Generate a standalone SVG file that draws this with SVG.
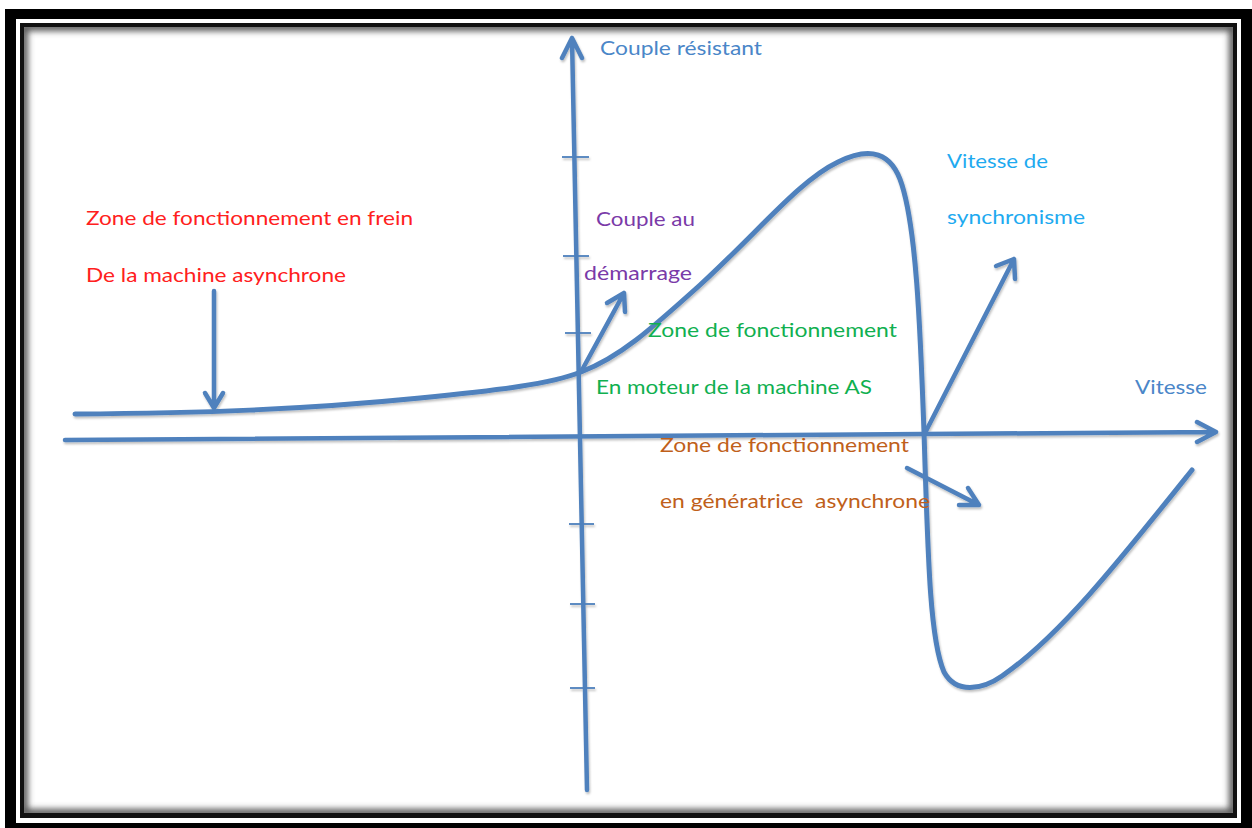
<svg xmlns="http://www.w3.org/2000/svg" width="1252" height="828" viewBox="0 0 1252 828">
  <defs>
    <style>
      .ln { fill: none; stroke: #4f81bd; stroke-linecap: round; stroke-linejoin: round; }
      .ax { stroke-width: 4.5; }
      .cv { stroke-width: 5; }
      .ar { stroke-width: 4.5; }
      .tk { stroke-width: 1.8; stroke-linecap: butt; }
      text { font-family: Lato, "Open Sans", "Liberation Sans", sans-serif; font-size: 19px; }
      .blue { fill: #4a86c8; }
      .cyan { fill: #1eaaf0; }
      .red { fill: #ff2020; }
      .purple { fill: #7a3aa8; }
      .green { fill: #10b050; }
      .brown { fill: #c0601a; }
    </style>
    <filter id="shadow" x="-5%" y="-5%" width="110%" height="110%">
      <feDropShadow dx="1" dy="2" stdDeviation="1.2" flood-color="#000" flood-opacity="0.25"/>
    </filter>
    <filter id="soft" x="-5%" y="-5%" width="110%" height="110%">
      <feGaussianBlur stdDeviation="3"/>
    </filter>
    <clipPath id="inner">
      <rect x="24" y="27" width="1209" height="786"/>
    </clipPath>
  </defs>

  <!-- frame -->
  <g id="frame">
    <rect x="0" y="0" width="1252" height="828" fill="#ffffff"/>
    <rect x="5" y="9" width="1247" height="819" fill="#000"/>
    <rect x="16" y="19" width="1225" height="804" fill="#ffffff"/>
    <rect x="20" y="23" width="1217" height="795" fill="#111"/>
    <rect x="24" y="27" width="1209" height="786" fill="#ffffff"/>
    <g clip-path="url(#inner)">
      <rect x="24" y="27" width="1209" height="786" fill="none" stroke="#555" stroke-width="8" filter="url(#soft)"/>
    </g>
  </g>

  <!-- connectors: axes, characteristic curve and pointer arrows -->
  <g id="connectors" filter="url(#shadow)">
    <!-- torque axis -->
    <path class="ln ax" d="M587,790 L572,38 M562,58 L572,38 L582,58"/>
    <g class="ln tk">
      <line x1="562" y1="157" x2="589" y2="157"/>
      <line x1="563" y1="256" x2="589" y2="256"/>
      <line x1="565" y1="333" x2="591" y2="333"/>
      <line x1="569" y1="524" x2="594" y2="524"/>
      <line x1="570" y1="604" x2="595" y2="604"/>
      <line x1="570" y1="688" x2="595" y2="688"/>
    </g>
    <!-- speed axis -->
    <path class="ln ax" d="M65,440 L1216,432 M1197,422 L1216,432 L1197,442"/>
    <!-- torque-speed characteristic -->
    <path class="ln cv" d="M75,414 C200,413 300,410 420,398 C500,390 550,384 581,372 C620,357 650,330 700,285 C760,230 800,180 838,162 C870,146 892,152 902,185 C916,230 920,320 924,432 C928,560 930,640 944,672 C956,694 982,690 1002,676 C1060,636 1120,560 1192,470"/>
    <!-- braking zone pointer -->
    <path class="ln ar" d="M214,291 L214,408 M205,393 L214,408 L223,393"/>
    <!-- starting torque pointer -->
    <path class="ln ar" d="M582,370 L624,293 M607,303 L624,293 L625,312"/>
    <!-- synchronous speed pointer -->
    <path class="ln ar" d="M926,431 L1014,259 M996,266 L1014,259 L1015,279"/>
    <!-- generator zone pointer -->
    <path class="ln ar" d="M907,468 L979,505 M959,505 L979,505 L968,488"/>
  </g>

  <!-- labels -->
  <g id="axis-torque-label">
    <text class="blue" x="600" y="55" textLength="162" lengthAdjust="spacingAndGlyphs">Couple résistant</text>
  </g>
  <g id="axis-speed-label">
    <text class="blue" x="1135" y="394" textLength="72" lengthAdjust="spacingAndGlyphs">Vitesse</text>
  </g>
  <g id="brake-zone">
    <text class="red" x="86" y="225" textLength="327" lengthAdjust="spacingAndGlyphs">Zone de fonctionnement en frein</text>
    <text class="red" x="86" y="282" textLength="260" lengthAdjust="spacingAndGlyphs">De la machine asynchrone</text>
  </g>
  <g id="starting-torque">
    <text class="purple" x="596" y="226" textLength="99" lengthAdjust="spacingAndGlyphs">Couple au</text>
    <text class="purple" x="584" y="280" textLength="108" lengthAdjust="spacingAndGlyphs">démarrage</text>
  </g>
  <g id="motor-zone">
    <text class="green" x="648" y="337" textLength="249" lengthAdjust="spacingAndGlyphs">Zone de fonctionnement</text>
    <text class="green" x="596" y="394" textLength="276" lengthAdjust="spacingAndGlyphs">En moteur de la machine AS</text>
  </g>
  <g id="synchronous-speed">
    <text class="cyan" x="947" y="168" textLength="101" lengthAdjust="spacingAndGlyphs">Vitesse de</text>
    <text class="cyan" x="947" y="224" textLength="138" lengthAdjust="spacingAndGlyphs">synchronisme</text>
  </g>
  <g id="generator-zone">
    <text class="brown" x="660" y="452" textLength="249" lengthAdjust="spacingAndGlyphs">Zone de fonctionnement</text>
    <text class="brown" x="660" y="508" textLength="270" lengthAdjust="spacingAndGlyphs" xml:space="preserve">en génératrice  asynchrone</text>
  </g>
</svg>
